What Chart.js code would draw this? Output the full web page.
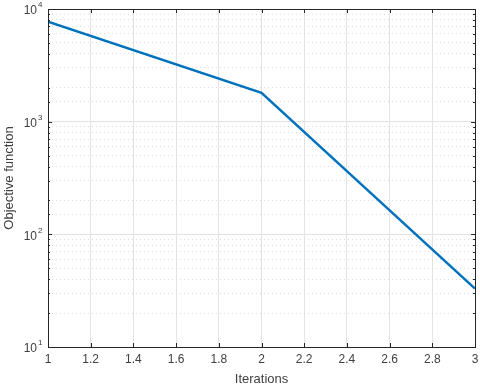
<!DOCTYPE html>
<html>
<head>
<meta charset="utf-8">
<script src="https://cdn.jsdelivr.net/npm/chart.js@4/dist/chart.umd.min.js"></script>
<style>
  html, body { margin: 0; padding: 0; background: #fff; }
</style>
</head>
<body>
<canvas id="chart" width="480" height="387"></canvas>
<script>
// data
const iterations = [1, 2, 3];
const objective = [7700, 1800, 33];

// y decade labels (MATLAB style 10^n), base and exponent
const yDecades = [10, 100, 1000, 10000];
const yExponents = ["1", "2", "3", "4"];

const FONT = "'Liberation Sans', Arial, Helvetica, sans-serif";
const TEXT = "#404040";

function isDecade(v) {
    return yDecades.indexOf(Math.round(v)) !== -1 && Math.abs(v - Math.round(v)) < 1e-6;
}

// box around the plot, inward tick marks and 10^n labels
const boxPlugin = {
    id: "box",
    afterDraw(chart) {
        const { ctx, chartArea: a, scales } = chart;
        ctx.save();
        ctx.strokeStyle = "#262626";
        ctx.lineWidth = 1;
        ctx.beginPath();
        scales.x.ticks.forEach(t => {
            const px = Math.round(scales.x.getPixelForValue(t.value)) + 0.5;
            ctx.moveTo(px, a.bottom); ctx.lineTo(px, a.bottom - 4);
            ctx.moveTo(px, a.top); ctx.lineTo(px, a.top + 4);
        });
        scales.y.ticks.forEach(t => {
            const py = Math.round(scales.y.getPixelForValue(t.value)) + 0.5;
            const len = isDecade(t.value) ? 4 : 2;
            ctx.moveTo(a.left, py); ctx.lineTo(a.left + len, py);
            ctx.moveTo(a.right, py); ctx.lineTo(a.right - len, py);
        });
        ctx.stroke();
        ctx.strokeRect(Math.round(a.left) + 0.5, Math.round(a.top) + 0.5,
            Math.round(a.right - a.left), Math.round(a.bottom - a.top));

        // decade labels
        ctx.fillStyle = TEXT;
        ctx.textBaseline = "middle";
        yDecades.forEach((v, i) => {
            const py = scales.y.getPixelForValue(v);
            const x = a.left - 11;
            ctx.font = "12px " + FONT;
            ctx.textAlign = "right";
            ctx.fillText("10", x, py + 2);
            ctx.font = "8px " + FONT;
            ctx.textAlign = "left";
            ctx.fillText(yExponents[i], x + 1, py - 4);
        });
        ctx.restore();
    }
};

new Chart(document.getElementById("chart"), {
    type: "line",
    data: {
        datasets: [{
            data: iterations.map((x, i) => ({ x: x, y: objective[i] })),
            borderColor: "#0072BD",
            borderWidth: 2.5,
            pointRadius: 0,
            tension: 0,
            fill: false
        }]
    },
    options: {
        responsive: false,
        animation: false,
        devicePixelRatio: 1,
        layout: { padding: { left: 0, top: 9, right: 5, bottom: 0 } },
        plugins: { legend: { display: false }, tooltip: { enabled: false } },
        scales: {
            x: {
                type: "linear",
                min: 1,
                max: 3,
                ticks: {
                    stepSize: 0.2,
                    color: TEXT,
                    font: { family: FONT, size: 12 },
                    padding: 5,
                    maxRotation: 0,
                    callback: v => String(+v.toFixed(1))
                },
                grid: { color: "#e3e3e3", drawTicks: false },
                border: { display: false },
                title: {
                    display: true,
                    text: "Iterations",
                    color: TEXT,
                    font: { family: FONT, size: 13 },
                    padding: { top: 2, bottom: 0 }
                },
                afterFit: s => {
                    s.height = 40;
                    s.paddingLeft = 0;
                    s.paddingRight = 0;
                }
            },
            y: {
                type: "logarithmic",
                min: 10,
                max: 10000,
                ticks: {
                    autoSkip: false,
                    font: { family: FONT, size: 12 },
                    padding: 4,
                    callback: () => ""
                },
                grid: {
                    color: c => (c.tick && isDecade(c.tick.value)) ? "#e3e3e3" : "#dcdcdc",
                    drawTicks: false
                },
                border: {
                    display: false,
                    dash: c => (c.tick && !isDecade(c.tick.value)) ? [1, 3] : []
                },
                title: {
                    display: true,
                    text: "Objective function",
                    color: TEXT,
                    font: { family: FONT, size: 13 },
                    padding: { top: 2, bottom: 0 }
                },
                afterFit: s => {
                    s.width = 48;
                    s.paddingTop = 0;
                    s.paddingBottom = 0;
                }
            }
        }
    },
    plugins: [boxPlugin]
});
</script>
</body>
</html>
